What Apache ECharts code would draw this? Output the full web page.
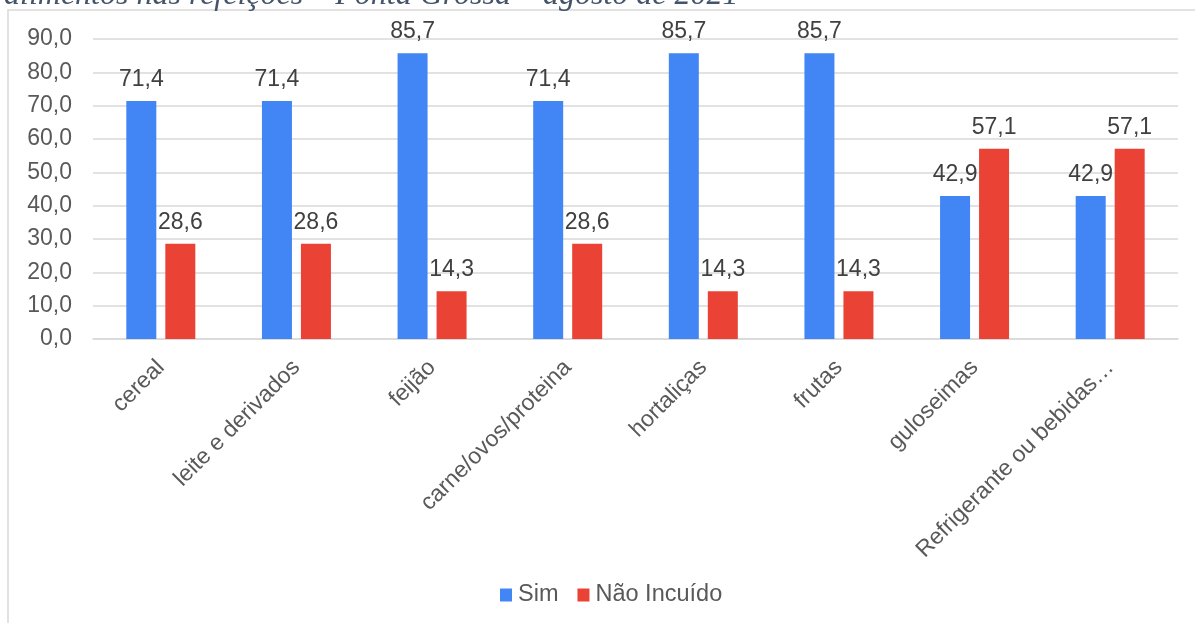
<!DOCTYPE html>
<html>
<head>
<meta charset="utf-8">
<script src="https://cdn.jsdelivr.net/npm/echarts@6/dist/echarts.min.js"></script>
<style>
  html, body { margin: 0; padding: 0; background: #ffffff; }
  #chart { width: 1195px; height: 623px; }
</style>
</head>
<body>
<div id="chart"></div>
<script>
// Inclusão de alimentos nas refeições (%)
const categories = ['cereal', 'leite e derivados', 'feijão', 'carne/ovos/proteina', 'hortaliças', 'frutas', 'guloseimas', 'Refrigerante ou bebidas…'];
const simValues = [71.4, 71.4, 85.7, 71.4, 85.7, 85.7, 42.9, 42.9];
const naoValues = [28.6, 28.6, 14.3, 28.6, 14.3, 14.3, 57.1, 57.1];
const seriesNames = ['Sim', 'Não Incuído'];
const titleText = 'alimentos nas refeições – Ponta Grossa – agosto de 2021';

const FONT = 'Liberation Sans, Arial, sans-serif';
const fmt = v => v.toFixed(1).replace('.', ',');

const chart = echarts.init(document.getElementById('chart'), null, { renderer: 'canvas' });

const labelStyle = {
  show: true,
  position: 'top',
  distance: 10,
  color: '#404040',
  fontFamily: FONT,
  fontSize: 23,
  formatter: p => fmt(p.value)
};

chart.setOption({
  backgroundColor: '#ffffff',
  animation: false,
  graphic: [
    {
      type: 'rect',
      x: 8, y: 10,
      shape: { x: 0, y: 0, width: 1300, height: 800 },
      style: { fill: 'none', stroke: '#d9d9d9', lineWidth: 1.5 },
      silent: true
    },
    {
      type: 'text',
      x: 4, y: 12,
      style: {
        text: titleText,
        fontFamily: 'Liberation Serif, Times New Roman, serif',
        fontStyle: 'italic',
        fontSize: 32,
        fill: '#44546a',
        verticalAlign: 'bottom'
      },
      silent: true
    }
  ],
  grid: { left: 93, right: 17, top: 39, bottom: 284, containLabel: false },
  legend: {
    data: seriesNames,
    left: 495,
    top: 578,
    itemWidth: 12,
    itemHeight: 13,
    itemGap: 19,
    icon: 'rect',
    textStyle: { color: '#595959', fontFamily: FONT, fontSize: 23.5, padding: [0, 0, 0, 1] }
  },
  xAxis: {
    type: 'category',
    data: categories,
    axisLine: { show: true, lineStyle: { color: '#d9d9d9', width: 1.5 } },
    axisTick: { show: false },
    axisLabel: {
      interval: 0,
      rotate: 45,
      margin: 25,
      color: '#595959',
      fontFamily: FONT,
      fontSize: 23
    }
  },
  yAxis: {
    type: 'value',
    min: 0,
    max: 90,
    interval: 10,
    axisLine: { show: false },
    axisTick: { show: false },
    splitLine: { lineStyle: { color: '#d9d9d9', width: 1.5 } },
    axisLabel: {
      margin: 21,
      color: '#595959',
      fontFamily: FONT,
      fontSize: 23,
      formatter: v => fmt(v)
    }
  },
  series: [
    {
      name: seriesNames[0],
      type: 'bar',
      data: simValues,
      barWidth: 30,
      barGap: '30%',
      itemStyle: { color: '#4285f4' },
      label: labelStyle
    },
    {
      name: seriesNames[1],
      type: 'bar',
      data: naoValues,
      barWidth: 30,
      itemStyle: { color: '#ea4335' },
      label: labelStyle
    }
  ]
});
</script>
</body>
</html>
